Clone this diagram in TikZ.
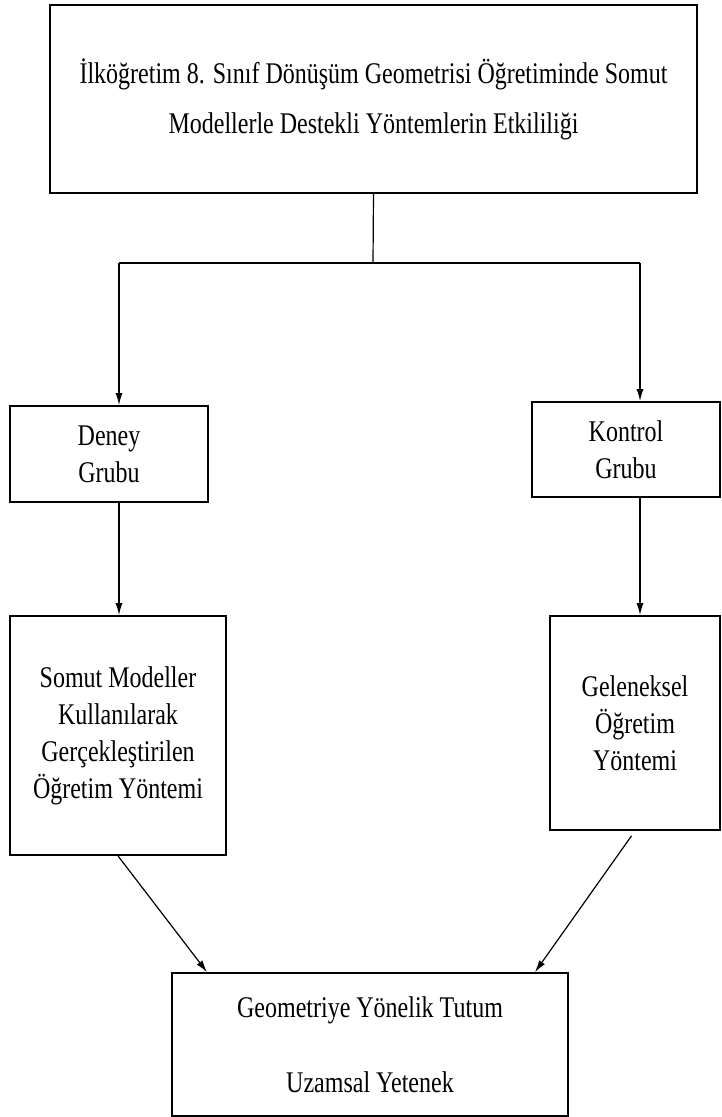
\documentclass[tikz,border=0pt]{standalone}
\usepackage{fontspec}
\setmainfont[FakeStretch=0.8]{Liberation Serif}
\usetikzlibrary{arrows.meta}

\begin{document}
\begin{tikzpicture}[x=1pt, y=-1pt, font=\fontsize{30}{37}\selectfont,
	>={Latex[length=12pt,width=7pt]}, line width=1.2pt,
	kutu/.style={draw, line width=1.8pt, align=center, inner sep=0pt}]

	%% page frame
	\useasboundingbox (0,0) rectangle (722,1117);

	%% boxes
	\node[kutu, minimum width=647pt, minimum height=188pt, font=\fontsize{30}{50}\selectfont] (baslik) at (373.5,99)
		{İlköğretim 8. Sınıf Dönüşüm Geometrisi Öğretiminde Somut\\ Modellerle Destekli Yöntemlerin Etkililiği};
	\node[kutu, minimum width=198pt, minimum height=96pt] (deney) at (109,454) {Deney\\ Grubu};
	\node[kutu, minimum width=188pt, minimum height=95pt] (kontrol) at (626,449.5) {Kontrol\\ Grubu};
	\node[kutu, minimum width=216pt, minimum height=239pt] (somut) at (118,735.5)
		{Somut Modeller\\ Kullanılarak\\ Gerçekleştirilen\\ Öğretim Yöntemi};
	\node[kutu, minimum width=170pt, minimum height=214pt] (geleneksel) at (635,723)
		{Geleneksel\\ Öğretim\\ Yöntemi};
	\node[kutu, minimum width=396pt, minimum height=143pt, font=\fontsize{30}{75}\selectfont] (tutum) at (370,1044.5)
		{Geometriye Yönelik Tutum\\ Uzamsal Yetenek};

	%% branch
	\coordinate (kol) at (373,263);
	\coordinate (sol) at (119,263);
	\coordinate (sag) at (640,263);
	\draw (baslik.south) -- (kol);
	\draw (sol) -- (sag);
	\draw[->] (sol) -- (sol |- deney.north);
	\draw[->] (sag) -- (sag |- kontrol.north);

	\draw[->] (sol |- deney.south) -- (sol |- somut.north);
	\draw[->] (sag |- kontrol.south) -- (sag |- geleneksel.north);

	%% into the last box
	\draw[->] (somut.south) -- ([xshift=-163pt]tutum.north);
	\draw[->, shorten <=6pt] (geleneksel.south) -- ([xshift=165pt]tutum.north);

\end{tikzpicture}
\end{document}
